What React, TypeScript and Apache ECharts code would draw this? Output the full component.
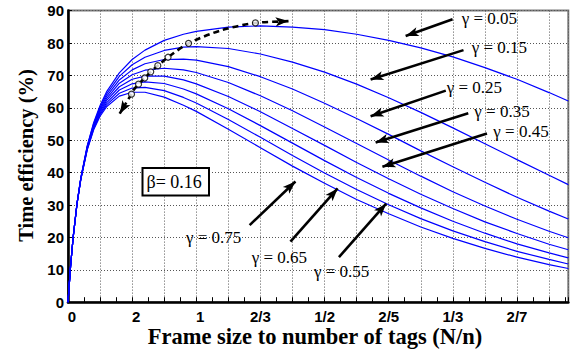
import React, { useEffect, useRef } from "react";
import * as echarts from "echarts";

// load n/N (x axis runs in n/N, labelled as N/n)
const rho = [0, 0.02, 0.04, 0.07, 0.1, 0.15, 0.2, 0.25, 0.3, 0.4, 0.5, 0.6, 0.75, 0.9, 1.0, 1.25, 1.5, 1.75, 2.0, 2.25, 2.5, 2.75, 3.0, 3.25, 3.5, 3.75, 3.9];

const effG005 = [0, 11.1, 20.0, 30.4, 38.4, 48.3, 55.4, 60.7, 64.9, 70.8, 74.9, 77.8, 80.8, 82.7, 83.6, 84.9, 85.3, 84.9, 84.1, 82.7, 80.8, 78.5, 75.7, 72.4, 68.8, 64.7, 62.1];
const effG015 = [0, 11.1, 20.0, 30.4, 38.3, 48.1, 55.1, 60.2, 64.2, 69.7, 73.3, 75.6, 77.7, 78.7, 78.9, 78.3, 76.6, 74.1, 71.0, 67.3, 63.1, 58.6, 53.8, 48.9, 44.0, 39.2, 36.3];
const effG025 = [0, 11.1, 20.0, 30.4, 38.3, 47.9, 54.7, 59.7, 63.5, 68.6, 71.7, 73.6, 74.9, 75.0, 74.7, 72.7, 69.6, 65.8, 61.4, 56.7, 51.8, 46.7, 41.8, 37.0, 32.4, 28.1, 25.7];
const effG035 = [0, 11.1, 20.0, 30.3, 38.2, 47.7, 54.4, 59.3, 62.8, 67.6, 70.2, 71.6, 72.2, 71.7, 70.9, 67.8, 63.7, 59.1, 54.1, 49.0, 43.9, 38.9, 34.1, 29.7, 25.6, 21.9, 19.9];
const effG045 = [0, 11.1, 19.9, 30.3, 38.1, 47.6, 54.1, 58.8, 62.2, 66.5, 68.8, 69.8, 69.8, 68.6, 67.4, 63.5, 58.8, 53.6, 48.4, 43.1, 38.1, 33.3, 28.9, 24.8, 21.2, 17.9, 16.2];
const effG055 = [0, 11.1, 19.9, 30.3, 38.0, 47.4, 53.8, 58.3, 61.5, 65.5, 67.4, 68.0, 67.5, 65.8, 64.3, 59.7, 54.5, 49.1, 43.7, 38.5, 33.6, 29.1, 25.0, 21.3, 18.0, 15.2, 13.7];
const effG065 = [0, 11.1, 19.9, 30.2, 38.0, 47.2, 53.5, 57.9, 60.9, 64.5, 66.1, 66.3, 65.3, 63.2, 61.5, 56.4, 50.9, 45.3, 39.9, 34.8, 30.1, 25.8, 22.0, 18.7, 15.7, 13.2, 11.8];
const effG075 = [0, 11.1, 19.9, 30.2, 37.9, 47.0, 53.2, 57.4, 60.3, 63.6, 64.8, 64.8, 63.3, 60.8, 58.9, 53.4, 47.7, 42.0, 36.7, 31.7, 27.3, 23.2, 19.7, 16.6, 13.9, 11.6, 10.4];

const curves = [effG005, effG015, effG025, effG035, effG045, effG055, effG065, effG075];

// x tick positions (n/N) and their N/n labels
const xTickValues = [0, 0.5, 1, 1.5, 2, 2.5, 3, 3.5];
const xTickLabels = ["0", "2", "1", "2/3", "1/2", "2/5", "1/3", "2/7"];

// dashed locus of the maxima, and circle markers on it
const peakLocusX = [0.43, 0.479, 0.513, 0.55, 0.598, 0.645, 0.70, 0.78, 0.94, 1.2, 1.461, 1.65];
const peakLocusY = [60.0, 63.2, 65.6, 67.3, 69.2, 71.1, 73.0, 75.6, 79.9, 84.0, 86.2, 86.6];
const peakMarkX = [0.495, 0.55, 0.598, 0.645, 0.70, 0.78, 0.94, 1.461];
const peakMarkY = [64.2, 67.3, 69.2, 71.1, 73.0, 75.6, 79.9, 86.2];

// annotation arrows (data coords) and gamma labels
const gammaLabels = ["γ = 0.05", "γ = 0.15", "γ = 0.25", "γ = 0.35", "γ = 0.45", "γ = 0.55", "γ = 0.65", "γ = 0.75"];
const arrowFrom = [[2.998, 87.3], [3.083, 77.8], [2.945, 65.3], [3.12, 58.3], [3.266, 52.1], [2.112, 13.9], [1.734, 18.7], [1.416, 23.8]];
const arrowTo = [[2.632, 82.16], [2.359, 68.7], [2.359, 57.4], [2.398, 49.3], [2.451, 41.8], [2.48, 30.4], [2.102, 35.1], [1.773, 37.25]];
const labelPos = [[461.7, 18.5], [471.7, 47], [446.7, 87.5], [474.3, 111], [493.3, 131.7], [314, 271], [251.7, 257.5], [186, 237.5]];

const locusArrowFrom = [[0.435, 60.3], [1.65, 86.6]];
const locusArrowTo = [[0.403, 58.2], [1.719, 86.76]];

export default function App() {
  const ref = useRef<HTMLDivElement>(null);
  useEffect(() => {
    document.body.style.margin = "0";
    const chart = echarts.init(ref.current as HTMLDivElement, null, { renderer: "svg" });
    const gridLine = { show: true, lineStyle: { color: "#555", width: 1, type: [1, 2] as any } };
    const series: any[] = curves.map((vals, k) => ({
      type: "line",
      name: gammaLabels[k],
      data: rho.map((x, i) => [x, vals[i]]),
      showSymbol: false,
      smooth: false,
      lineStyle: { color: "#0000ff", width: 1.2 },
      z: 3,
    }));
    series.push({
      type: "line",
      data: peakLocusX.map((x, i) => [x, peakLocusY[i]]),
      showSymbol: false,
      smooth: 0.3,
      lineStyle: { color: "#000", width: 2.6, type: [6, 4] },
      z: 4,
    });
    series.push({
      type: "scatter",
      data: peakMarkX.map((x, i) => [x, peakMarkY[i]]),
      symbol: "circle",
      symbolSize: 6,
      itemStyle: { color: "#fff", borderColor: "#000", borderWidth: 1.2 },
      z: 5,
    });
    series.push({
      type: "lines",
      coordinateSystem: "cartesian2d",
      symbol: ["none", "arrow"],
      symbolSize: [0, [7, 13]],
      lineStyle: { color: "#000", width: 2.6, opacity: 1, curveness: 0 },
      data: locusArrowFrom.map((f, i) => ({ coords: [f, locusArrowTo[i]] })),
      silent: true,
      z: 6,
    });
    series.push({
      type: "lines",
      coordinateSystem: "cartesian2d",
      symbol: ["none", "arrow"],
      symbolSize: [0, [7, 13]],
      lineStyle: { color: "#000", width: 2.6, opacity: 1, curveness: 0 },
      data: arrowFrom.map((f, i) => ({ coords: [f, arrowTo[i]] })),
      silent: true,
      z: 6,
    });

    const graphics: any[] = labelPos.map((p, i) => ({
      type: "text",
      x: p[0],
      y: p[1],
      z: 100,
      style: { text: gammaLabels[i], font: '17px "Liberation Serif"', fill: "#000", align: "left", verticalAlign: "middle" },
    }));
    graphics.push({
      type: "rect",
      z: 100,
      shape: { x: 142.5, y: 168, width: 66.5, height: 27.5 },
      style: { fill: "#fff", stroke: "#000", lineWidth: 2 },
    });
    graphics.push({
      type: "text",
      z: 101,
      x: 146.5,
      y: 182,
      style: { text: "β= 0.16", font: '18px "Liberation Serif"', fill: "#000", align: "left", verticalAlign: "middle" },
    });
    graphics.push({
      type: "text",
      z: 100,
      x: 315,
      y: 336,
      style: { text: "Frame size to number of tags (N/n)", font: 'bold 22.5px "Liberation Serif"', fill: "#000", align: "center", verticalAlign: "middle" },
    });
    graphics.push({
      type: "text",
      z: 100,
      x: 25.5,
      y: 155.5,
      rotation: Math.PI / 2,
      style: { text: "Time efficiency (%)", font: 'bold 20.5px "Liberation Serif"', fill: "#000", align: "center", verticalAlign: "middle" },
    });

    chart.setOption({
      animation: false,
      backgroundColor: "#fff",
      grid: { left: 68, top: 10.6, right: 9.7, bottom: 46.8, show: true, borderColor: "#7a7a7a", borderWidth: 2, backgroundColor: "transparent" },
      xAxis: {
        type: "value",
        min: 0,
        max: 3.9,
        interval: 0.25,
        axisLine: { show: true, onZero: false, lineStyle: { color: "#000", width: 2.6 } },
        axisTick: { show: true, inside: true, length: 5, lineStyle: { color: "#000", width: 1 } },
        minorTick: { show: true, splitNumber: 2, length: 5, lineStyle: { color: "#000", width: 1 } },
        splitLine: gridLine,
        axisLabel: {
          margin: 8,
          color: "#000",
          fontSize: 15,
          lineHeight: 12,
          fontWeight: "bold",
          fontFamily: "Liberation Sans",
          formatter: (v: number) => {
            const i = xTickValues.findIndex((t) => Math.abs(t - v) < 1e-6);
            if (i < 0) return "";
            const s = xTickLabels[i];
            return s.length === 1 ? `{p|${s}}` : `{n|${s}}`;
          },
          rich: {
            p: { padding: [0, 0, 0, 8], fontSize: 15, lineHeight: 12, fontWeight: "bold", fontFamily: "Liberation Sans", color: "#000" },
            n: { fontSize: 15, lineHeight: 12, fontWeight: "bold", fontFamily: "Liberation Sans", color: "#000" },
          },
        },
      },
      yAxis: {
        type: "value",
        min: 0,
        max: 90,
        interval: 10,
        axisLine: { show: true, onZero: false, lineStyle: { color: "#000", width: 2.6 } },
        axisTick: { show: true, inside: true, length: 4, lineStyle: { color: "#000", width: 1 } },
        splitLine: gridLine,
        axisLabel: { margin: 4, color: "#000", fontSize: 15, fontWeight: "bold", fontFamily: "Liberation Sans" },
      },
      series,
      graphic: graphics,
    });
    return () => chart.dispose();
  }, []);
  return <div ref={ref} style={{ width: 578, height: 349 }} />;
}
